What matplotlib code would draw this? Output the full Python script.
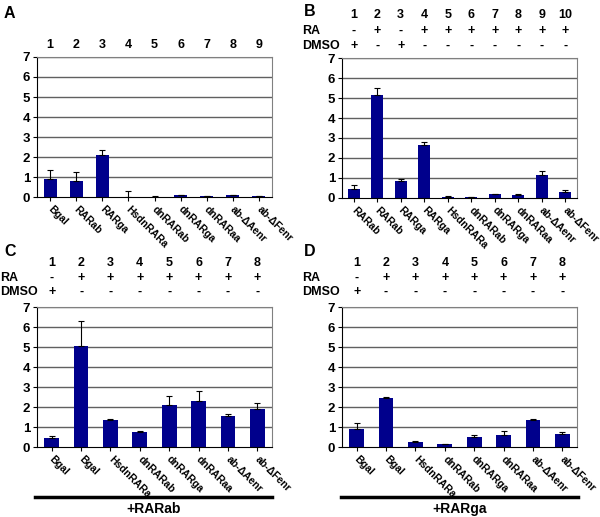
import matplotlib
matplotlib.use("Agg")
import matplotlib.pyplot as plt
import matplotlib.transforms as mtransforms
import numpy as np

plt.rcParams['font.family'] = ['Liberation Sans', 'DejaVu Sans']
plt.rcParams['font.weight'] = 'bold'

# ---- data ----
a_labels = ["Bgal", "RARab", "RARga", "HsdnRARa", "dnRARab", "dnRARga", "dnRARaa", "ab-ΔAenr", "ab-ΔFenr"]
a_values = [0.90, 0.78, 2.10, 0.02, 0.02, 0.08, 0.06, 0.08, 0.05]
a_errors = [0.45, 0.45, 0.25, 0.28, 0.01, 0.01, 0.01, 0.02, 0.01]

b_labels = ["RARab", "RARab", "RARga", "RARga", "HsdnRARa", "dnRARab", "dnRARga", "dnRARaa", "ab-ΔAenr", "ab-ΔFenr"]
b_values = [0.45, 5.15, 0.83, 2.65, 0.07, 0.05, 0.18, 0.17, 1.15, 0.30]
b_errors = [0.18, 0.33, 0.12, 0.13, 0.02, 0.01, 0.03, 0.04, 0.18, 0.08]
b_ra = ["-", "+", "-", "+", "+", "+", "+", "+", "+", "+"]
b_dmso = ["+", "-", "+", "-", "-", "-", "-", "-", "-", "-"]

c_labels = ["Bgal", "Bgal", "HsdnRARa", "dnRARab", "dnRARga", "dnRARaa", "ab-ΔAenr", "ab-ΔFenr"]
c_values = [0.45, 5.05, 1.35, 0.75, 2.10, 2.32, 1.57, 1.92]
c_errors = [0.10, 1.25, 0.07, 0.07, 0.43, 0.50, 0.10, 0.27]

d_labels = ["Bgal", "Bgal", "HsdnRARa", "dnRARab", "dnRARga", "dnRARaa", "ab-ΔAenr", "ab-ΔFenr"]
d_values = [0.90, 2.45, 0.27, 0.13, 0.48, 0.60, 1.35, 0.63]
d_errors = [0.30, 0.07, 0.04, 0.03, 0.12, 0.18, 0.07, 0.12]

cd_ra = ["-", "+", "+", "+", "+", "+", "+", "+"]
cd_dmso = ["+", "-", "-", "-", "-", "-", "-", "-"]

W, H = 600, 517
BAR = "#00008c"

fig = plt.figure(figsize=(W / 100, H / 100), dpi=100)


def px_axes(x0, y0, x1, y1):
    return fig.add_axes([x0 / W, 1 - y1 / H, (x1 - x0) / W, (y1 - y0) / H])


def fy(y):
    return 1 - y / H


def draw_panel(ax, labels, values, errors):
    x = np.arange(len(labels))
    ax.set_axisbelow(True)
    for g in range(1, 8):
        ax.axhline(g, color="#606060", lw=1.0, zorder=0)
    ax.bar(x, values, width=0.5, color=BAR, zorder=2)
    ax.errorbar(x, values, yerr=[np.zeros(len(errors)), errors], fmt="none",
                ecolor="black", elinewidth=0.8, capsize=2, capthick=0.8, zorder=3)
    ax.set_xlim(-0.5, len(labels) - 0.5)
    ax.set_ylim(0, 7)
    ax.set_yticks(range(8))
    ax.tick_params(axis="y", labelsize=9.5, length=3, width=0.8, pad=2)
    ax.tick_params(axis="x", length=3, width=0.8, pad=2)
    ax.set_xticks(x)
    ax.set_xticklabels(labels, rotation=-45, ha="left", va="top",
                       rotation_mode="anchor", fontsize=7.5)
    for s in ["top", "right"]:
        ax.spines[s].set_color("#808080")
        ax.spines[s].set_linewidth(0.8)
    for s in ["left", "bottom"]:
        ax.spines[s].set_color("black")
        ax.spines[s].set_linewidth(0.8)
    # nudge rotated labels so they start right under the tick
    offset = mtransforms.ScaledTranslation(3 / 100, 0, fig.dpi_scale_trans)
    for t in ax.get_xticklabels():
        t.set_transform(t.get_transform() + offset)


def header_rows(ax, n, y_num, ra=None, dmso=None, y_ra=None, y_dmso=None, xlab=None):
    tr = mtransforms.blended_transform_factory(ax.transData, fig.transFigure)
    for i in range(n):
        ax.text(i, fy(y_num), str(i + 1), transform=tr, ha="center", va="center", fontsize=9)
        if ra is not None:
            ax.text(i, fy(y_ra), ra[i], transform=tr, ha="center", va="center", fontsize=9)
            ax.text(i, fy(y_dmso), dmso[i], transform=tr, ha="center", va="center", fontsize=9)
    if ra is not None:
        fig.text(xlab / W, fy(y_ra), "RA", ha="left", va="center", fontsize=9)
        fig.text(xlab / W, fy(y_dmso), "DMSO", ha="left", va="center", fontsize=9)


axA = px_axes(37, 57, 272, 197)
draw_panel(axA, a_labels, a_values, a_errors)
header_rows(axA, len(a_labels), 45)

axB = px_axes(342, 58, 577, 198)
draw_panel(axB, b_labels, b_values, b_errors)
header_rows(axB, len(b_labels), 15, b_ra, b_dmso, 31, 46, 302)

axC = px_axes(37, 307, 272, 447)
draw_panel(axC, c_labels, c_values, c_errors)
header_rows(axC, len(c_labels), 263, cd_ra, cd_dmso, 278, 292, 0)

axD = px_axes(342, 307, 577, 447)
draw_panel(axD, d_labels, d_values, d_errors)
header_rows(axD, len(d_labels), 263, cd_ra, cd_dmso, 278, 292, 302)

# panel letters
for lx, ly, letter in [(4, 14, "A"), (304, 12, "B"), (4, 252, "C"), (304, 252, "D")]:
    fig.text(lx / W, fy(ly), letter, ha="left", va="center", fontsize=11.5)

# bottom bars with construct labels
for x0, x1, lab in [(35, 272, "+RARab"), (341, 578, "+RARga")]:
    fig.add_artist(plt.Line2D([x0 / W, x1 / W], [fy(497), fy(497)], color="black", lw=2.5))
    fig.text((x0 + x1) / 2 / W, fy(509), lab, ha="center", va="center", fontsize=10)

fig.savefig("out.png", dpi=100)
